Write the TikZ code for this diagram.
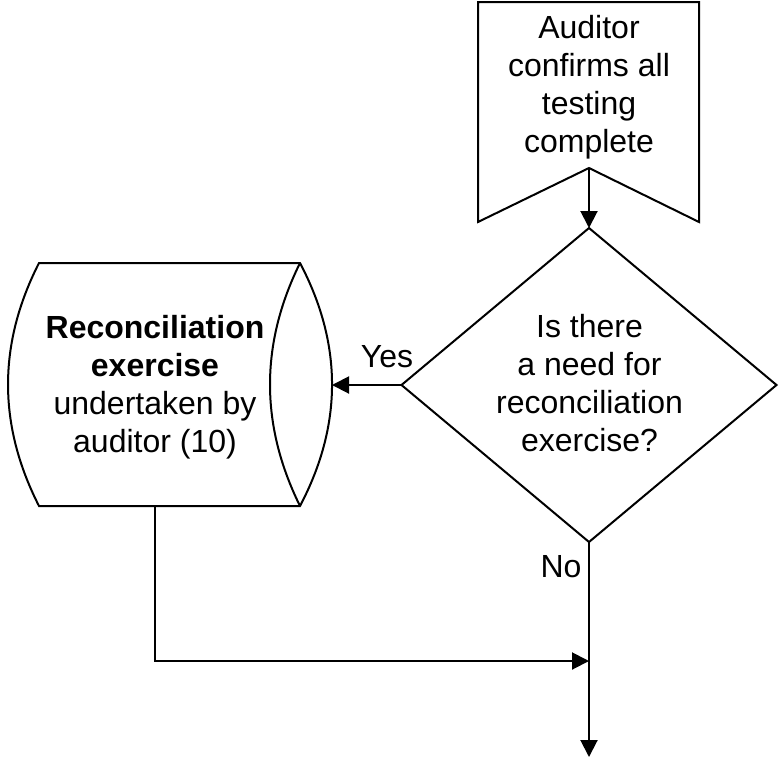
\documentclass[tikz,border=0pt]{standalone}
\usepackage{fontspec}
\setmainfont{Liberation Sans}
\usetikzlibrary{shapes.geometric,arrows.meta}
\begin{document}
\begin{tikzpicture}[x=1pt,y=-1pt, line width=2pt, line join=miter,
  arr/.style={-{Triangle[length=17pt,width=17pt]}},
  txt/.style={align=center, font=\fontsize{32}{38}\selectfont, inner sep=0pt}]
\useasboundingbox (0,0) rectangle (781,758);
% off-page connector (start)
\draw (478,2) -- (699,2) -- (699,222) -- (589,168) -- (478,222) -- cycle;
\node[txt] (start) at (589,87) {Auditor\\confirms all\\testing\\complete};
\coordinate (startout) at (589,168);
% decision
\node[diamond, draw, minimum width=375pt, minimum height=314pt, inner sep=0pt, outer sep=0pt] (q) at (589,385) {};
\node[txt] (qtext) at (589.5,383) {Is there\\a need for\\reconciliation\\exercise?};
% stored data shape
\draw (39,263) -- (300,263) .. controls (342.7,344) and (342.7,425) .. (300,506) -- (39,506) .. controls (-2.3,425) and (-2.3,344) .. (39,263) -- cycle;
\draw (300,263) .. controls (260,344) and (260,425) .. (300,506);
\node[txt] (rec) at (155,387) {\textbf{Reconciliation}\\\textbf{exercise}\\undertaken by\\auditor (10)};
\coordinate (recE) at (332,385);
\coordinate (recS) at (155,506);
\coordinate (merge) at (589,661);
\coordinate (end) at (589,757);
% connectors
\draw[arr] (startout) -- (q.north);
\draw[arr] (q.west) -- (recE);
\draw[arr] (recS) |- (merge);
\draw[arr] (q.south) -- (end);
% labels
\node[txt, anchor=base] (yes) at (387,367) {Yes};
\node[txt, anchor=base] (no) at (561,577) {No};
\end{tikzpicture}
\end{document}
